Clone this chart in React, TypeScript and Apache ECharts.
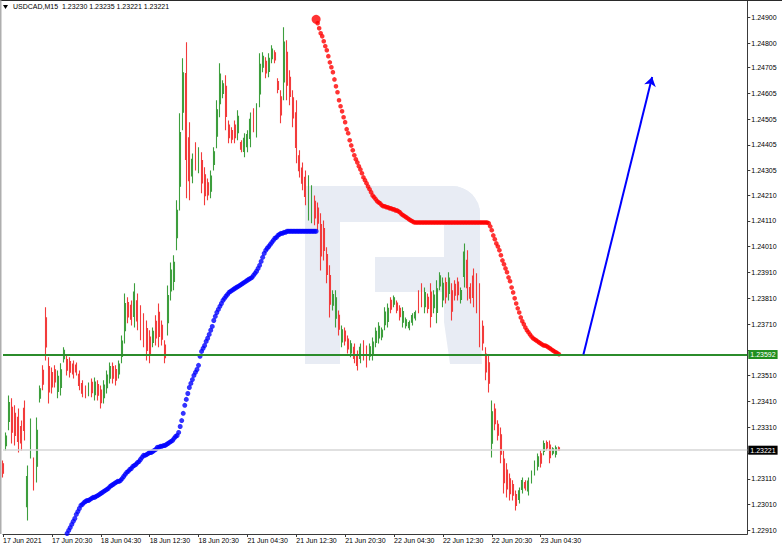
import React, { useEffect, useRef } from "react";
import * as echarts from "echarts";

// ---- header ----
const symbolTitle = "USDCAD,M15";
const headerOHLC = ["1.23230", "1.23235", "1.23221", "1.23221"];

// ---- axes ----
// time axis in 15-minute slots; labelled slots and their labels
const xTickSlots = [0, 32, 64, 96, 128, 160, 192, 224, 256, 288, 320, 352];
const xTickLabels = [
  "17 Jun 2021", "17 Jun 20:30", "18 Jun 04:30", "18 Jun 12:30", "18 Jun 20:30",
  "21 Jun 04:30", "21 Jun 12:30", "21 Jun 20:30", "22 Jun 04:30", "22 Jun 12:30",
  "22 Jun 20:30", "23 Jun 04:30",
];
const yTickValues = [
  1.249, 1.248, 1.24705, 1.24605, 1.24505, 1.24405, 1.24305, 1.2421, 1.2411, 1.2401,
  1.2391, 1.2381, 1.2371, 1.2361, 1.2351, 1.2341, 1.2331, 1.2321, 1.2311, 1.2301, 1.2291,
];
const yLabelValues = [
  1.249, 1.248, 1.24705, 1.24605, 1.24505, 1.24405, 1.24305, 1.2421, 1.2411, 1.2401,
  1.2391, 1.2381, 1.2371, 1.2351, 1.2341, 1.2331, 1.2311, 1.2301, 1.2291,
];
const X_MAX = 487.3;
const Y_MIN = 1.22896;
const Y_MAX = 1.24963;

// ---- price bars (points above 1.20000), one bar per two 15-min slots ----
const BAR_STEP = 2;
const opens = [
  3168, 3238, 3332, 3387, 3364, 3349, 3313, 3383, 3002, 3228,
  3167, 3159, 3423, 3531, 3734, 3545, 3522, 3533, 3449, 3464,
  3576, 3573, 3565, 3555, 3551, 3515, 3479, 3462, 3444, 3484,
  3436, 3476, 3454, 3425, 3463, 3500, 3545, 3534, 3517, 3585,
  3684, 3794, 3783, 3740, 3800, 3756, 3726, 3693, 3660, 3639,
  3721, 3756, 3705, 3629, 3715, 3839, 3875, 4045, 4245, 4532,
  4682, 4432, 4285, 4393, 4320, 4344, 4289, 4258, 4225, 4329,
  4439, 4565, 4604, 4632, 4482, 4461, 4482, 4452, 4414, 4380,
  4398, 4430, 4528, 4467, 4603, 4706, 4729, 4690, 4739, 4762,
  4651, 4591, 4649, 4764, 4667, 4588, 4529, 4363, 4315, 4279,
  4156, 4138, 4186, 4160, 4096, 4081, 3980, 3898, 3783, 3733,
  3744, 3641, 3683, 3652, 3598, 3620, 3592, 3577, 3631, 3610,
  3586, 3591, 3639, 3656, 3660, 3708, 3720, 3802, 3787, 3792,
  3771, 3717, 3704, 3696, 3717, 3734, 3823, 3849, 3777, 3814,
  3834, 3774, 3755, 3858, 3804, 3871, 3829, 3839, 3864, 3873,
  3806, 3895, 3957, 3852, 3896, 3876, 3818, 3701, 3594, 3560,
  3248, 3381, 3321, 3281, 3187, 3144, 3110, 3088, 3049, 3030,
  3069, 3096, 3063, 3105, 3138, 3159, 3207, 3216, 3251, 3241,
  3209, 3205, 3230,
];
const highs = [
  3181, 3290, 3433, 3422, 3395, 3383, 3336, 3414, 3162, 3344,
  3193, 3348, 3472, 3550, 3775, 3581, 3542, 3550, 3530, 3558,
  3620, 3589, 3581, 3569, 3561, 3530, 3492, 3472, 3484, 3499,
  3503, 3492, 3472, 3492, 3530, 3561, 3561, 3550, 3569, 3666,
  3829, 3814, 3802, 3868, 3829, 3783, 3752, 3724, 3686, 3697,
  3744, 3790, 3724, 3647, 3860, 3949, 3977, 4190, 4528, 4741,
  4803, 4493, 4372, 4415, 4396, 4376, 4318, 4275, 4306, 4396,
  4578, 4722, 4656, 4675, 4500, 4473, 4500, 4539, 4423, 4450,
  4462, 4531, 4547, 4566, 4760, 4764, 4745, 4760, 4791, 4772,
  4663, 4617, 4861, 4811, 4694, 4617, 4578, 4384, 4337, 4306,
  4287, 4248, 4209, 4182, 4140, 4112, 4008, 3938, 3841, 3841,
  3763, 3705, 3697, 3666, 3647, 3635, 3608, 3635, 3647, 3627,
  3635, 3658, 3697, 3717, 3697, 3775, 3790, 3814, 3821, 3802,
  3783, 3775, 3736, 3724, 3752, 3763, 3841, 3868, 3852, 3829,
  3868, 3841, 3880, 3911, 3891, 3891, 3911, 3868, 3880, 3891,
  3852, 4023, 3996, 3868, 3926, 3907, 3868, 3724, 3620, 3589,
  3414, 3402, 3337, 3309, 3220, 3170, 3131, 3104, 3065, 3076,
  3115, 3104, 3115, 3142, 3181, 3208, 3220, 3259, 3259, 3259,
  3232, 3239, 3235,
];
const lows = [
  3115, 3220, 3298, 3247, 3239, 3212, 3220, 3259, 2948, 3189,
  3065, 3096, 3406, 3453, 3569, 3402, 3441, 3464, 3422, 3433,
  3561, 3511, 3503, 3499, 3511, 3453, 3426, 3422, 3430, 3426,
  3414, 3414, 3383, 3402, 3441, 3480, 3480, 3472, 3499, 3558,
  3635, 3713, 3705, 3697, 3686, 3647, 3620, 3569, 3558, 3620,
  3627, 3620, 3627, 3558, 3666, 3802, 3841, 3996, 4151, 4462,
  4198, 4190, 4256, 4306, 4295, 4217, 4171, 4190, 4198, 4306,
  4392, 4512, 4586, 4462, 4411, 4411, 4411, 4423, 4376, 4357,
  4376, 4396, 4454, 4434, 4551, 4687, 4663, 4667, 4722, 4722,
  4605, 4489, 4578, 4578, 4559, 4473, 4334, 4279, 4229, 4171,
  4112, 4101, 4093, 4074, 3918, 3957, 3868, 3736, 3763, 3697,
  3666, 3620, 3627, 3596, 3581, 3558, 3530, 3558, 3569, 3542,
  3569, 3569, 3620, 3635, 3647, 3686, 3697, 3752, 3775, 3752,
  3724, 3697, 3693, 3686, 3705, 3724, 3752, 3775, 3752, 3752,
  3697, 3752, 3713, 3841, 3775, 3790, 3802, 3724, 3802, 3802,
  3790, 3852, 3802, 3790, 3775, 3752, 3620, 3608, 3492, 3445,
  3193, 3298, 3259, 3170, 3053, 3038, 3026, 3026, 2987, 3014,
  3053, 3065, 3045, 3092, 3123, 3142, 3154, 3201, 3220, 3170,
  3201, 3193, 3221,
];
const closes = [
  3132, 3276, 3406, 3291, 3278, 3255, 3249, 3298, 3119, 3313,
  3097, 3298, 3459, 3477, 3621, 3447, 3466, 3486, 3508, 3533,
  3608, 3531, 3523, 3517, 3524, 3472, 3442, 3435, 3473, 3444,
  3485, 3434, 3405, 3474, 3512, 3545, 3500, 3492, 3555, 3644,
  3790, 3738, 3729, 3834, 3722, 3681, 3653, 3608, 3590, 3682,
  3656, 3662, 3651, 3580, 3821, 3920, 3950, 4151, 4453, 4685,
  4349, 4266, 4349, 4333, 4376, 4257, 4208, 4211, 4284, 4378,
  4541, 4680, 4642, 4515, 4433, 4427, 4433, 4516, 4388, 4431,
  4445, 4504, 4477, 4540, 4718, 4749, 4684, 4741, 4777, 4734,
  4620, 4521, 4804, 4636, 4593, 4509, 4395, 4305, 4256, 4205,
  4252, 4219, 4122, 4101, 3974, 3996, 3903, 3787, 3825, 3812,
  3690, 3688, 3645, 3614, 3634, 3577, 3550, 3620, 3589, 3563,
  3622, 3640, 3682, 3701, 3687, 3757, 3771, 3768, 3812, 3764,
  3739, 3759, 3727, 3716, 3743, 3755, 3774, 3798, 3832, 3771,
  3740, 3823, 3847, 3897, 3868, 3815, 3889, 3760, 3822, 3824,
  3840, 3989, 3851, 3810, 3813, 3791, 3682, 3637, 3524, 3481,
  3370, 3324, 3279, 3205, 3095, 3071, 3052, 3046, 3007, 3064,
  3103, 3075, 3101, 3132, 3169, 3195, 3171, 3247, 3230, 3192,
  3226, 3230, 3221,
];

// ---- levels ----
const supportLevel = 1.23592;
const lastPrice = 1.23221;

// ---- red dotted indicator (points above 1.20000), one value per 15-min slot ----
const redStartSlot = 205;
const redDots = [
  4892, 4877, 4857, 4838, 4826, 4807, 4788, 4772, 4749, 4725,
  4706, 4687, 4659, 4632, 4609, 4578, 4555, 4535, 4512, 4493,
  4466, 4450, 4423, 4403, 4384, 4365, 4349, 4337, 4322, 4310,
  4295, 4279, 4268, 4256, 4244, 4233, 4221, 4209, 4202, 4194,
  4186, 4182, 4178, 4171, 4167, 4167, 4163, 4163, 4159, 4159,
  4155, 4155, 4151, 4151, 4147, 4143, 4136, 4132, 4128, 4124,
  4120, 4116, 4112, 4109, 4105,
  4104, 4104, 4104, 4104, 4104, 4104, 4104, 4104, 4104, 4104,
  4104, 4104, 4104, 4104, 4104, 4104, 4104, 4104, 4104, 4104,
  4104, 4104, 4104, 4104, 4104, 4104, 4104, 4104, 4104, 4104,
  4104, 4104, 4104, 4104, 4104, 4104, 4104, 4104, 4104, 4104,
  4104, 4104, 4104, 4104, 4104, 4104, 4104, 4104,
  4101, 4089, 4074, 4054, 4039, 4023, 4011, 3996, 3977, 3957,
  3942, 3926, 3911, 3891, 3876, 3852, 3833, 3810, 3790, 3771,
  3755, 3736, 3721, 3709, 3697, 3686, 3678, 3670, 3662, 3655,
  3651, 3647, 3643, 3639, 3635, 3631, 3627, 3627, 3624, 3620,
  3616, 3612, 3608, 3604, 3601, 3597, 3593,
];

// ---- blue dotted indicator ----
const blueStartSlot = 42;
const blueDots = [
  2898, 2910, 2921, 2933, 2945, 2956, 2972, 2983, 2995, 3007,
  3011, 3018, 3022, 3026, 3026, 3030, 3034, 3038, 3038, 3042,
  3045, 3049, 3053, 3057, 3061, 3065, 3069, 3073, 3080, 3084,
  3088, 3092, 3096, 3100, 3100, 3104, 3111, 3119, 3127, 3135,
  3139, 3146, 3150, 3158, 3162, 3166, 3173, 3177, 3185, 3193,
  3201, 3201, 3204, 3208, 3212, 3212, 3216, 3220, 3224, 3232,
  3232, 3236, 3236, 3239, 3239, 3243, 3247, 3251, 3255, 3259,
  3267, 3274, 3278, 3290, 3313, 3336, 3364, 3395, 3418, 3441,
  3464, 3480, 3495, 3511, 3523, 3534, 3550, 3585, 3604, 3616,
  3627, 3643, 3655, 3670, 3686, 3701, 3724, 3740, 3755, 3767,
  3779, 3790, 3802, 3810, 3818, 3825, 3833, 3837, 3841, 3845,
  3849, 3853, 3856, 3860, 3864, 3868, 3872, 3876, 3880, 3884,
  3887, 3891, 3899, 3907, 3915, 3926, 3938, 3953, 3969, 3984,
  3996, 4004, 4011, 4019, 4027, 4035, 4043, 4046, 4054, 4058,
  4062, 4062, 4066, 4066,
  4070, 4070, 4070, 4070, 4070, 4070, 4070, 4070, 4070, 4070,
  4070, 4070, 4070, 4070, 4070, 4070, 4070, 4070, 4070, 4070,
];

// ---- forecast arrow (slot, price) ----
const arrowFrom = [380, 1.23592];
const arrowTo = [425, 1.24668];

const UP = "#3d9e3d";
const DOWN = "#f23b3b";
const FONT = "Liberation Sans";

const P = (pts: number) => +(1.2 + pts / 100000).toFixed(5);

export default function App() {
  const ref = useRef<HTMLDivElement>(null);

  useEffect(() => {
    if (!ref.current) return;
    const chart = echarts.init(ref.current, undefined, { renderer: "svg" });

    const candles = opens.map((o, i) => [
      i * BAR_STEP,
      P(o),
      P(closes[i]),
      P(lows[i]),
      P(highs[i]),
    ]);
    const red = redDots.map((v, i) => [redStartSlot + i, P(v)]);
    const blue = blueDots.map((v, i) => [blueStartSlot + i, P(v)]);

    const logoColor = "#e8ecf4";

    const levelLabel = (bg: string) => ({
      show: true,
      position: "end",
      distance: 1,
      color: "#fff",
      backgroundColor: bg,
      fontSize: 7,
      fontFamily: FONT,
      padding: [1, 2, 1, 2],
    });

    const option: any = {
      animation: false,
      backgroundColor: "#ffffff",
      grid: { left: 1.7, right: 34.7, top: 1, bottom: 15, containLabel: false },
      xAxis: {
        type: "value",
        min: 0,
        max: X_MAX,
        axisLine: { show: true, onZero: false, lineStyle: { color: "#3a3a3a", width: 1 } },
        axisTick: { show: true, customValues: xTickSlots, length: 3, lineStyle: { color: "#3a3a3a" } },
        axisLabel: {
          show: true,
          customValues: xTickSlots,
          formatter: (v: number) => {
            const i = xTickSlots.indexOf(Math.round(v));
            return i >= 0 ? xTickLabels[i] : "";
          },
          align: "left",
          fontSize: 7,
          color: "#000",
          margin: 3,
          fontFamily: FONT,
        },
        splitLine: { show: false },
      },
      yAxis: {
        type: "value",
        position: "right",
        min: Y_MIN,
        max: Y_MAX,
        scale: true,
        axisLine: { show: true, onZero: false, lineStyle: { color: "#3a3a3a", width: 1 } },
        axisTick: { show: true, customValues: yTickValues, length: 3, lineStyle: { color: "#3a3a3a" } },
        axisLabel: {
          show: true,
          customValues: yLabelValues,
          formatter: (v: number) => v.toFixed(5),
          fontSize: 7,
          color: "#000",
          margin: 4,
          fontFamily: FONT,
        },
        splitLine: { show: false },
      },
      graphic: [
        {
          type: "group",
          z: -1,
          silent: true,
          children: [
            { type: "rect", shape: { x: 305, y: 186, width: 175, height: 36, r: [0, 28, 0, 0] }, style: { fill: logoColor } },
            { type: "rect", shape: { x: 305, y: 186, width: 35, height: 178 }, style: { fill: logoColor } },
            { type: "rect", shape: { x: 444, y: 186, width: 36, height: 136, r: [0, 28, 0, 0] }, style: { fill: logoColor } },
            { type: "rect", shape: { x: 375, y: 257, width: 105, height: 35 }, style: { fill: logoColor } },
            { type: "polygon", shape: { points: [[444, 322], [480, 322], [482, 364], [450, 364]] }, style: { fill: logoColor } },
          ],
        },
        { type: "line", z: 100, shape: { x1: 0, y1: 0.5, x2: 782, y2: 0.5 }, style: { stroke: "#2a2a2a", lineWidth: 1 } },
        { type: "line", z: 100, shape: { x1: 0.8, y1: 0, x2: 0.8, y2: 534 }, style: { stroke: "#9a9a9a", lineWidth: 1.2 } },
        { type: "polygon", z: 100, shape: { points: [[3, 5], [8, 5], [5.5, 9]] }, style: { fill: "#000" } },
        {
          type: "text",
          z: 100,
          x: 13,
          y: 3,
          style: {
            text: symbolTitle + "  " + headerOHLC.join(" "),
            fontSize: 7,
            fontFamily: FONT,
            fill: "#000",
            verticalAlign: "top",
          },
        },
      ],
      series: [
        {
          type: "candlestick",
          data: candles,
          encode: { x: 0, y: [1, 2, 3, 4] },
          barWidth: 1.4,
          z: 3,
          itemStyle: {
            color: UP,
            color0: DOWN,
            borderColor: UP,
            borderColor0: DOWN,
            borderWidth: 1.1,
          },
        },
        {
          type: "scatter",
          data: red,
          z: 4,
          symbol: "circle",
          symbolSize: (_v: any, p: any) => (p.dataIndex === 0 ? 9 : 4.6),
          itemStyle: { color: "#ff0000" },
          markLine: {
            silent: true,
            symbol: ["none", "none"],
            animation: false,
            precision: 5,
            data: [
              {
                yAxis: lastPrice,
                lineStyle: { color: "#d6d6d6", width: 1.5, type: "solid" },
                label: { ...levelLabel("#000"), formatter: lastPrice.toFixed(5) },
              },
              {
                yAxis: supportLevel,
                lineStyle: { color: "#2b8c2b", width: 2, type: "solid" },
                label: { ...levelLabel("#1f8f1f"), formatter: supportLevel.toFixed(5) },
              },
            ],
          },
        },
        {
          type: "scatter",
          data: blue,
          z: 4,
          symbol: "circle",
          symbolSize: 5,
          itemStyle: { color: "#0000ff" },
          markLine: {
            silent: true,
            animation: false,
            precision: 5,
            symbol: ["none", "arrow"],
            symbolSize: 9,
            label: { show: false },
            lineStyle: { color: "#0000ff", width: 2, type: "solid" },
            data: [[{ coord: arrowFrom }, { coord: arrowTo }]],
          },
        },
      ],
    };

    chart.setOption(option);
    return () => chart.dispose();
  }, []);

  return (
    <div
      ref={ref}
      style={{ position: "absolute", left: 0, top: 0, width: 782, height: 549, background: "#fff" }}
    />
  );
}
